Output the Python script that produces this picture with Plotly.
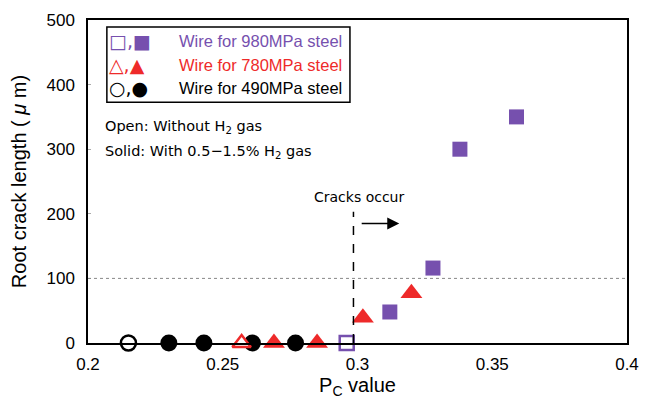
import plotly.graph_objects as go

# Data
pc_980_open = [0.296]
crack_980_open = [0]
pc_980_solid = [0.312, 0.328, 0.338, 0.359]
crack_980_solid = [48, 116, 300, 350]

pc_780_open = [0.257]
crack_780_open = [0]
pc_780_solid = [0.269, 0.285, 0.302, 0.320]
crack_780_solid = [0, 0, 39, 77]

pc_490_open = [0.215]
crack_490_open = [0]
pc_490_solid = [0.230, 0.243, 0.261, 0.277]
crack_490_solid = [0, 0, 0, 0]

x_ticks = [0.2, 0.25, 0.3, 0.35, 0.4]
x_tick_text = ["0.2", "0.25", "0.3", "0.35", "0.4"]
y_ticks = [0, 100, 200, 300, 400, 500]

crack_threshold_pc = 0.2985
ref_line_y = 100

PURPLE = "#7650AE"
RED = "#EE2A2A"
BLACK = "#000000"

fig = go.Figure()

def add(x, y, symbol, color, size, open_=False):
    fig.add_trace(go.Scatter(
        x=x, y=y, mode="markers", cliponaxis=False, showlegend=False,
        marker=dict(symbol=symbol, size=size,
                    color="white" if open_ else color,
                    line=dict(color=color, width=2.5 if open_ else 0))))

# horizontal reference line at 100
fig.add_shape(type="line", xref="paper", x0=0, x1=1, y0=ref_line_y, y1=ref_line_y,
              line=dict(color="#888888", width=1, dash="dot"))
# cracks occur vertical line
fig.add_shape(type="line", x0=crack_threshold_pc, x1=crack_threshold_pc, y0=0, y1=203,
              line=dict(color="black", width=1.5, dash="dash"))

add(pc_490_solid, crack_490_solid, "circle", BLACK, 17)
add(pc_490_open, crack_490_open, "circle", BLACK, 15, True)
add(pc_780_solid, crack_780_solid, "triangle-up", RED, 19)
add(pc_780_open, crack_780_open, "triangle-up", RED, 16, True)
add(pc_980_solid, crack_980_solid, "square", PURPLE, 15)
add(pc_980_open, crack_980_open, "square", PURPLE, 14, True)

# arrow
fig.add_annotation(x=0.3155, y=185, ax=0.301, ay=185, xref="x", yref="y", axref="x", ayref="y",
                   showarrow=True, arrowhead=2, arrowsize=1.6, arrowwidth=1.5, arrowcolor="black", text="")
fig.add_annotation(x=0.3007, y=226, text="Cracks occur", showarrow=False,
                   font=dict(size=14, color="black", family="DejaVu Sans"))

# notes
fig.add_annotation(xref="paper", yref="paper", x=0.028, y=0.668, xanchor="left", yanchor="middle",
                   showarrow=False, text="Open: Without H<sub>2</sub> gas",
                   font=dict(size=14.5, color="black", family="DejaVu Sans"))
fig.add_annotation(xref="paper", yref="paper", x=0.028, y=0.59, xanchor="left", yanchor="middle",
                   showarrow=False, text="Solid: With 0.5\u22121.5% H<sub>2</sub> gas",
                   font=dict(size=14.5, color="black", family="DejaVu Sans"))

# legend box
fig.add_shape(type="rect", xref="paper", yref="paper", x0=0.035, x1=0.486, y0=0.745, y1=0.978,
              line=dict(color="black", width=1.5), fillcolor="white", layer="below")
leg = [("\u25a1,\u25a0", "Wire for 980MPa steel", PURPLE, 0.935),
       ("\u25b3,\u25b2", "Wire for 780MPa steel", RED, 0.862),
       ("\u25cb,\u25cf", "Wire for 490MPa steel", BLACK, 0.789)]
for sym, t, c, yy in leg:
    fig.add_annotation(xref="paper", yref="paper", x=0.036, y=yy, xanchor="left", yanchor="middle",
                       showarrow=False, text=sym, font=dict(size=19, color=c, family="DejaVu Sans"))
    fig.add_annotation(xref="paper", yref="paper", x=0.165, y=yy, xanchor="left", yanchor="middle",
                       showarrow=False, text=t, font=dict(size=16.5, color=c))

# The page adds an 8px body margin, so margins are offset to place the plot area
fig.update_layout(
    width=651, height=399, margin=dict(l=80, r=32, t=12, b=64),
    plot_bgcolor="white", paper_bgcolor="white",
    font=dict(family="Liberation Sans, Arial, sans-serif", color="black"),
    xaxis=dict(range=[0.2, 0.4], tickvals=x_ticks, ticktext=x_tick_text, showgrid=False,
               zeroline=False, showline=True, mirror=True, linecolor="black", linewidth=1.5,
               ticks="", tickfont=dict(size=17), automargin=False, ticklabelstandoff=5,
               title=dict(text="P<sub>C</sub> value", font=dict(size=20), standoff=4)),
    yaxis=dict(range=[0, 500], tickvals=y_ticks, showgrid=False, zeroline=False,
               showline=True, mirror=True, linecolor="black", linewidth=1.5,
               ticks="inside", ticklen=3, tickcolor="#aaaaaa", tickfont=dict(size=17),
               automargin=False, ticklabelstandoff=8,
               title=dict(text="Root crack length ( <i>\u03bc</i> m)", font=dict(size=20), standoff=14)),
)

fig.write_html("out.html")
